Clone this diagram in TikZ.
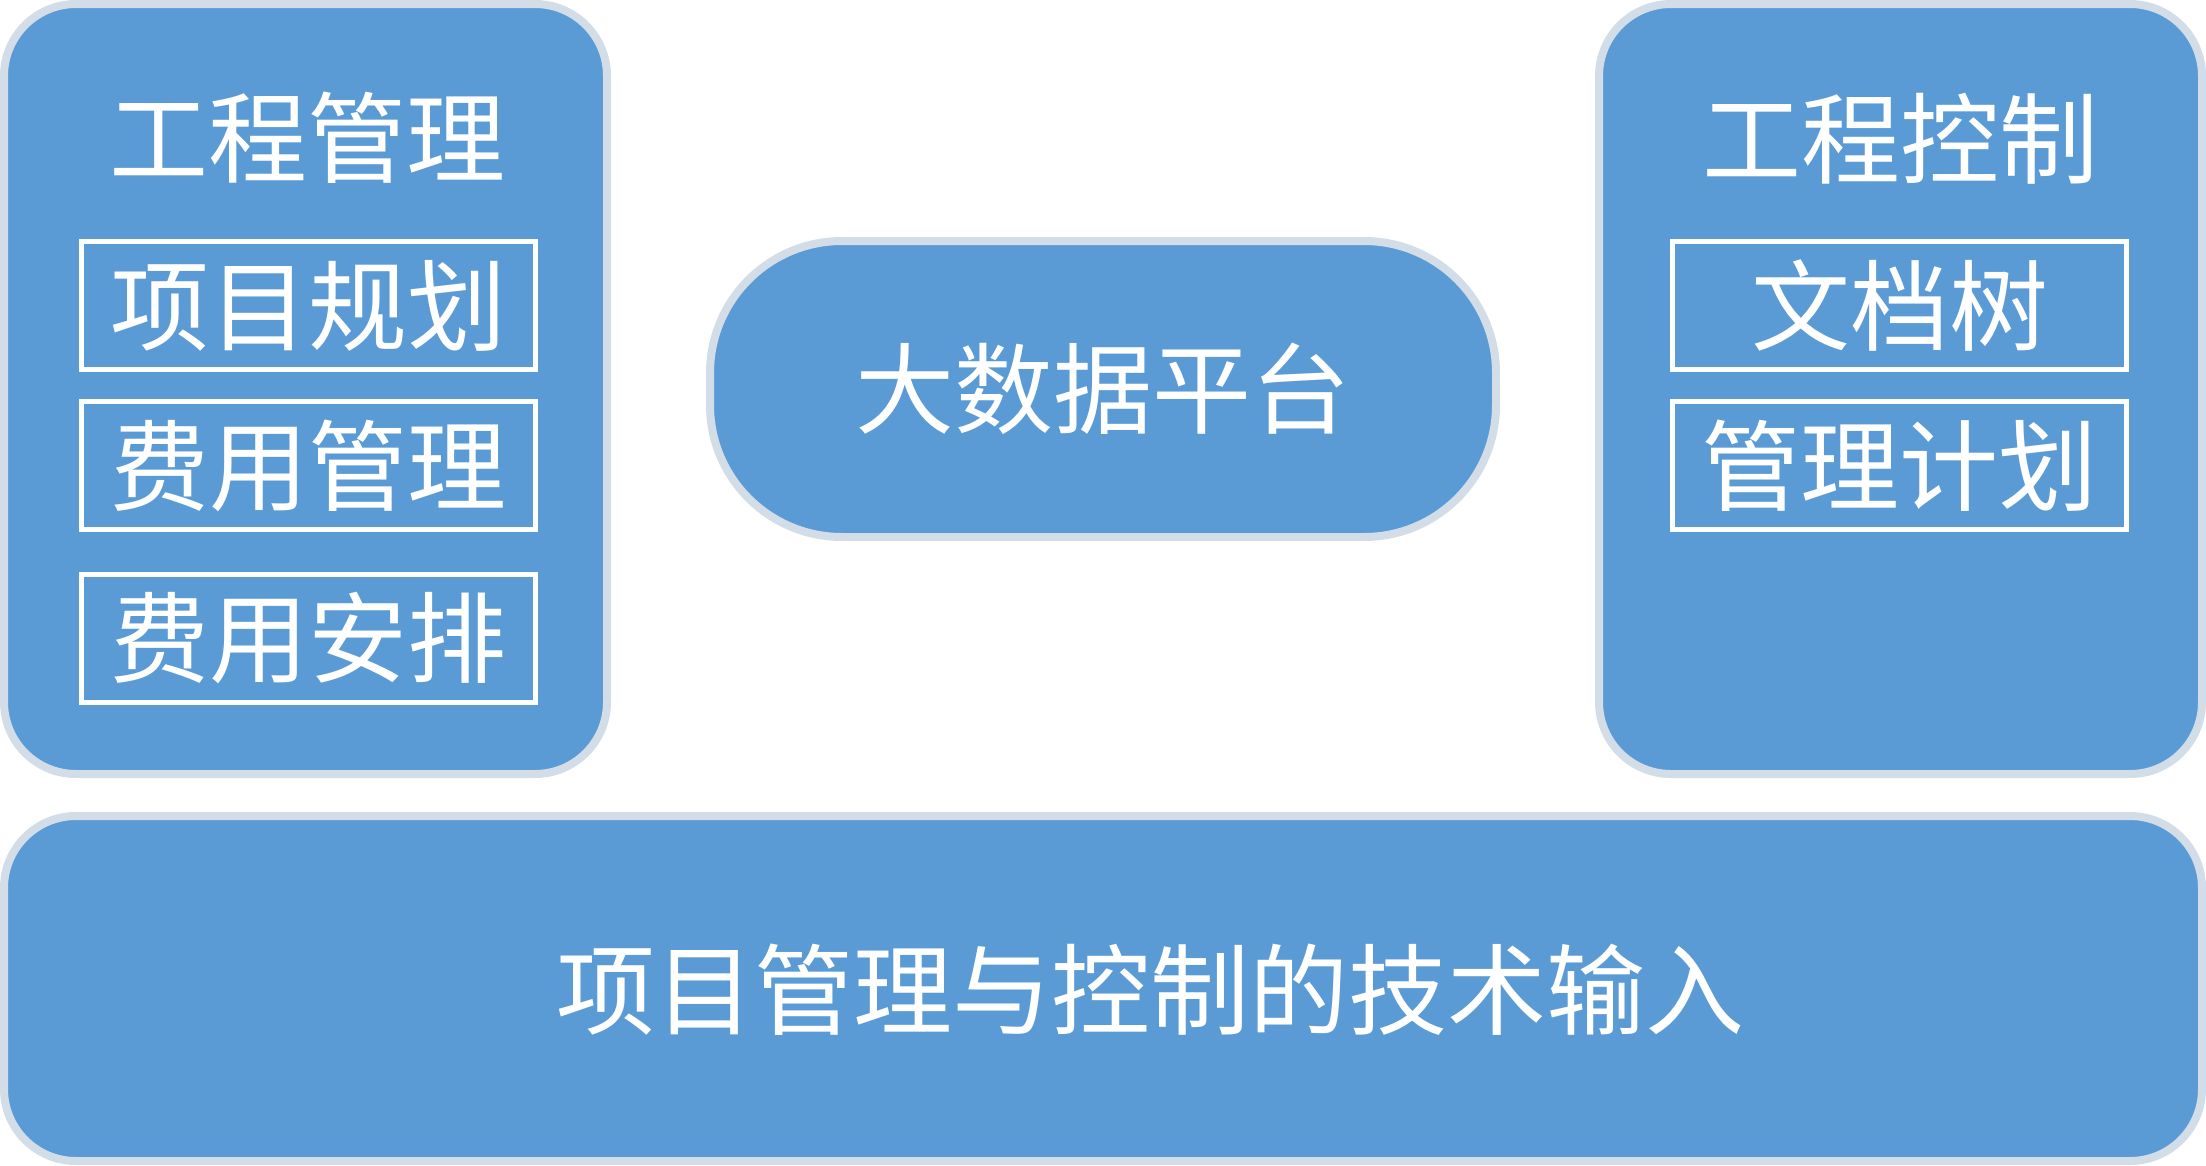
\documentclass[tikz,border=0pt]{standalone}
\usepackage{fontspec}
\setmainfont{Noto Sans CJK SC}
\usepackage{xcolor}
\usepackage{tikz}
\usetikzlibrary{positioning}

\definecolor{panelblue}{RGB}{91,155,213}
\definecolor{panelrim}{RGB}{210,221,231}

\tikzset{
    paneltext/.style={text=white, font=\fontsize{99}{110}\selectfont, inner sep=0pt},
    panel/.style={draw=panelrim, fill=panelblue, line width=8pt, rounded corners=72pt, inner sep=0pt},
    itembox/.style={draw=white, line width=5pt, minimum width=454pt, minimum height=128pt, paneltext}
}

\begin{document}
\begin{tikzpicture}[x=1pt, y=-1pt]
                            \useasboundingbox (0,0) rectangle (2206,1165);

                            % the three upper panels
                            \node[panel, minimum width=603pt, minimum height=770pt] (mgmt) at (305.5,389) {};
                            \node[panel, minimum width=603pt, minimum height=770pt] (ctrl) at (1900.5,389) {};
                            \node[panel, minimum width=786pt, minimum height=296pt, rounded corners=132pt] (bigdata) at (1103,389) {};
                            \node[paneltext] (bigdatatxt) at (bigdata.center) {大数据平台};

                            % bottom panel, text sits a bit right of centre
                            \node[panel, minimum width=2198pt, minimum height=345pt] (base) at (1103,988.5) {};
                            \node[paneltext] (basetxt) at (1150,990) {项目管理与控制的技术输入};

                            \node[paneltext] (mgmttitle) at (307,138) {工程管理};
                            \node[paneltext] (ctrltitle) at (1900,139) {工程控制};

                            \foreach \name/\y/\txt in {plan/305.5/项目规划, cost/465.5/费用管理, sched/638.5/费用安排}{
                                \node[itembox] (\name) at (308.5,\y) {\txt};
                            }
                            \foreach \name/\y/\txt in {doctree/305.5/文档树, mplan/465.5/管理计划}{
                                \node[itembox] (\name) at (1899.5,\y) {\txt};
                            }
\end{tikzpicture}
\end{document}
